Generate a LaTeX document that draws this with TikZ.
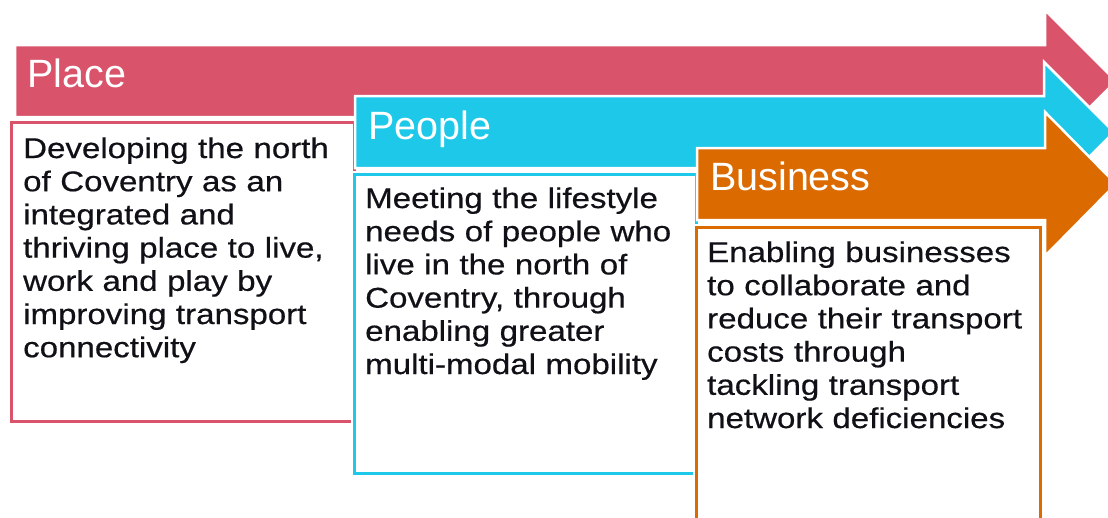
\documentclass[tikz,border=0pt]{standalone}
\usepackage{fontspec}
\setmainfont{Liberation Sans}
\newfontfamily\bodyfont[FakeStretch=1.16,FakeBold=0.5]{Liberation Sans}
\definecolor{placec}{RGB}{217,83,106}
\definecolor{peoplec}{RGB}{30,200,232}
\definecolor{businessc}{RGB}{219,106,0}
\definecolor{ink}{RGB}{16,16,22}
\begin{document}
\begin{tikzpicture}[x=1pt,y=-1pt,
  band/.style={fill=#1, draw=white, line width=2.5pt, line join=miter},
  card/.style={fill=white, draw=#1, line width=3pt,
    preaction={draw=white, line width=6pt}},
  head/.style={anchor=base west, inner sep=0pt, text=white,
    font=\fontsize{39.5}{40}\selectfont},
  body/.style={anchor=base west, inner sep=0pt, text=ink, text width=340pt,
    align=left, font=\bodyfont\fontsize{28.5}{33.2}\selectfont}]
\useasboundingbox (0,0) rectangle (1108,517);
\clip (0,0) rectangle (1108,517);

% Place
\filldraw[band=placec] (15,45) -- (1045,45) -- (1045,10) -- (1116,81)
  -- (1045,152) -- (1045,117) -- (15,117) -- cycle;
\filldraw[card=placec] (11.5,122) rectangle (354,421);
\node[head] (placehead) at (27,87) {Place};
\node[body] (placetext) at (23,158) {Developing the north\\of Coventry as an\\integrated and\\thriving place to live,\\work and play by\\improving transport\\connectivity};

% People
\filldraw[band=peoplec] (355,96) -- (1044,96) -- (1044,62) -- (1114,132)
  -- (1044,202) -- (1044,168) -- (355,168) -- cycle;
\filldraw[card=peoplec] (354,174) rectangle (696,473);
\node[head] (peoplehead) at (368,139) {People};
\node[body] (peopletext) at (365,208) {Meeting the lifestyle\\needs of people who\\live in the north of\\Coventry, through\\enabling greater\\multi-modal mobility};

% Business
\filldraw[band=businessc] (697,148) -- (1045,148) -- (1045,112) -- (1116,184)
  -- (1045,256) -- (1045,220) -- (697,220) -- cycle;
\filldraw[card=businessc] (696,227) rectangle (1040,545);
\node[head] (businesshead) at (710,190) {Business};
\node[body] (businesstext) at (707,262) {Enabling businesses\\to collaborate and\\reduce their transport\\costs through\\tackling transport\\network deficiencies};
\end{tikzpicture}
\end{document}
